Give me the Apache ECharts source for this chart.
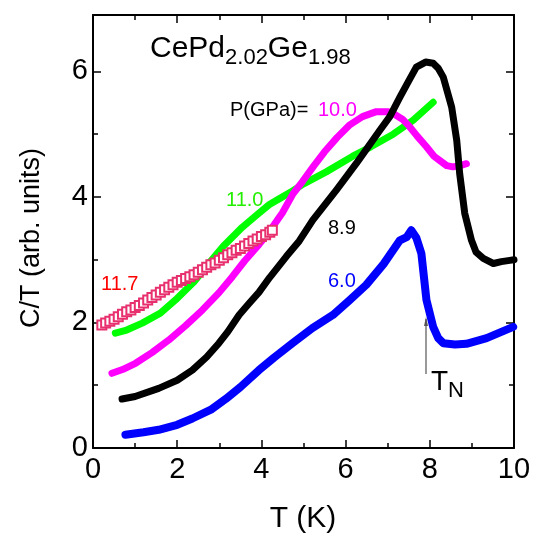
<!DOCTYPE html>
<html>
<head>
<meta charset="utf-8">
<script src="https://cdn.jsdelivr.net/npm/echarts@6/dist/echarts.min.js"></script>
<style>html,body{margin:0;padding:0;background:#fff}#c{width:539px;height:539px}</style>
</head>
<body>
<div id="c"></div>
<script>
// Data (T in K, C/T in arb. units)
var xTicks = [0, 2, 4, 6, 8, 10];
var yTicks = [0, 2, 4, 6];

var t60 = [0.77,1.2,1.56,2.0,2.36,2.8,3.15,3.5,3.94,4.3,4.74,5.21,5.7,6.1,6.49,6.9,7.29,7.45,7.56,7.68,7.8,7.92,8.08,8.2,8.32,8.6,8.87,9.35,9.98];
var c60 = [0.21,0.25,0.29,0.37,0.47,0.61,0.78,0.97,1.24,1.44,1.67,1.91,2.12,2.36,2.6,2.93,3.31,3.36,3.47,3.35,3.1,2.36,1.93,1.75,1.67,1.65,1.66,1.75,1.93];

var t89 = [0.69,1.0,1.56,2.0,2.36,2.7,2.99,3.2,3.47,3.7,3.94,4.2,4.59,4.9,5.22,5.5,5.78,6.25,6.81,7.05,7.29,7.5,7.68,7.9,8.08,8.2,8.32,8.52,8.64,8.71,8.83,8.99,9.1,9.27,9.51,9.7,9.9,10.0];
var c89 = [0.78,0.82,0.95,1.08,1.24,1.45,1.67,1.85,2.12,2.3,2.48,2.72,3.05,3.3,3.63,3.87,4.11,4.53,5.06,5.28,5.59,5.85,6.07,6.15,6.13,6.05,5.91,5.43,4.9,4.37,3.74,3.31,3.12,3.02,2.94,2.97,2.99,3.0];

var t100 = [0.45,0.7,1.01,1.4,1.8,2.2,2.6,3.0,3.31,3.6,3.94,4.19,4.5,4.75,4.98,5.25,5.5,5.8,6.1,6.4,6.73,7.0,7.13,7.35,7.52,7.7,7.92,8.1,8.24,8.4,8.55,8.72,8.87];
var c100 = [1.19,1.25,1.35,1.52,1.72,1.95,2.2,2.48,2.73,2.98,3.24,3.45,3.75,4.05,4.25,4.5,4.72,4.95,5.15,5.28,5.36,5.36,5.33,5.24,5.12,4.97,4.8,4.65,4.58,4.5,4.48,4.5,4.53];

var t110 = [0.53,0.8,1.17,1.6,1.96,2.4,2.75,3.1,3.55,3.9,4.19,4.42,4.75,4.98,5.54,6.17,6.6,7.13,7.6,8.08];
var c110 = [1.83,1.88,1.99,2.15,2.36,2.65,2.94,3.22,3.52,3.72,3.88,3.97,4.1,4.2,4.4,4.65,4.8,5.0,5.22,5.51];

var t117 = [0.21,0.3,0.4,0.5,0.6,0.7,0.8,0.9,1.0,1.1,1.2,1.3,1.4,1.5,1.6,1.7,1.8,1.9,2.0,2.1,2.2,2.3,2.4,2.5,2.6,2.7,2.8,2.9,3.0,3.1,3.2,3.3,3.4,3.5,3.6,3.7,3.8,3.9,4.0,4.1,4.2,4.26];
var c117 = [1.96,1.99,2.02,2.05,2.09,2.13,2.17,2.2,2.24,2.27,2.31,2.36,2.4,2.44,2.48,2.52,2.56,2.6,2.64,2.67,2.70,2.73,2.76,2.8,2.84,2.88,2.92,2.95,2.99,3.03,3.08,3.11,3.15,3.18,3.22,3.26,3.3,3.33,3.37,3.4,3.44,3.47];

function pairs(t, c) { return t.map(function (v, i) { return [v, c[i]]; }); }

var FONT = "'Liberation Sans', Arial, sans-serif";
var chart = echarts.init(document.getElementById('c'), null, {renderer: 'canvas'});

function xAx(pos, labels) {
  return {
    type: 'value', min: 0, max: 10, interval: 2, position: pos,
    axisLine: {show: true, onZero: false, lineStyle: {color: '#000', width: 2}},
    axisTick: {show: true, inside: true, length: 8, lineStyle: {color: '#000', width: 1.5}},
    minorTick: {show: true, splitNumber: 2, length: 5, lineStyle: {color: '#000', width: 1.5}},
    splitLine: {show: false}, minorSplitLine: {show: false},
    axisLabel: {show: labels, margin: 7, color: '#000', fontSize: 29, fontFamily: FONT,
      formatter: function (v) { return xTicks.indexOf(v) >= 0 ? String(v) : ''; }}
  };
}
function yAx(pos, interval, tickLen, labels, line) {
  return {
    type: 'value', min: 0, max: 6.9, interval: interval, position: pos,
    axisLine: {show: line, onZero: false, lineStyle: {color: '#000', width: 2}},
    axisTick: {show: true, inside: true, length: tickLen, lineStyle: {color: '#000', width: 1.5}},
    splitLine: {show: false},
    axisLabel: {show: labels, margin: 5, color: '#000', fontSize: 29, fontFamily: FONT, showMaxLabel: false,
      formatter: function (v) { return yTicks.indexOf(v) >= 0 ? String(v) : ''; }}
  };
}

var lineBase = {type: 'line', symbol: 'none', smooth: false, xAxisIndex: 0, yAxisIndex: 0, z: 3};

chart.setOption({
  animation: false,
  grid: {left: 93, right: 25, top: 15, bottom: 91, containLabel: false},
  xAxis: [xAx('bottom', true), xAx('top', false)],
  yAxis: [yAx('left', 2, 8, true, true), yAx('left', 1, 5, false, false),
          yAx('right', 2, 8, false, true), yAx('right', 1, 5, false, false)],
  series: [
    Object.assign({}, lineBase, {name: '11.0', data: pairs(t110, c110),
      lineStyle: {color: '#00ff00', width: 7, cap: 'round', join: 'round'}}),
    Object.assign({}, lineBase, {name: '10.0', data: pairs(t100, c100),
      lineStyle: {color: '#ff00ff', width: 7, cap: 'round', join: 'round'}}),
    Object.assign({}, lineBase, {name: '8.9', data: pairs(t89, c89),
      lineStyle: {color: '#000000', width: 7, cap: 'round', join: 'round'}}),
    Object.assign({}, lineBase, {name: '6.0', data: pairs(t60, c60),
      lineStyle: {color: '#0000ff', width: 8, cap: 'round', join: 'round'}}),
    Object.assign({}, lineBase, {name: '11.7', data: pairs(t117, c117), symbol: 'emptyRect', symbolSize: 9, showAllSymbol: true, z: 5,
      lineStyle: {color: '#f590b5', width: 4, cap: 'round', join: 'round'},
      itemStyle: {color: '#e8306e', borderColor: '#e8306e', borderWidth: 1.5}})
  ],
  graphic: [
    {type: 'text', x: 150, y: 34, style: {
      text: '{m|CePd}{s|2.02}{m|Ge}{s|1.98}', fill: '#000',
      rich: {
        m: {fontSize: 30, fontFamily: FONT, lineHeight: 30, verticalAlign: 'top', fill: '#000'},
        s: {fontSize: 22, fontFamily: FONT, lineHeight: 22, verticalAlign: 'top', padding: [13, 0, 0, 0], fill: '#000'}
      }}},
    {type: 'text', x: 230, y: 110, style: {text: 'P(GPa)=', font: '20px ' + FONT, fill: '#000', verticalAlign: 'middle'}},
    {type: 'text', x: 318, y: 110, style: {text: '10.0', font: '20px ' + FONT, fill: '#ff00ff', verticalAlign: 'middle'}},
    {type: 'text', x: 226, y: 200, style: {text: '11.0', font: '20px ' + FONT, fill: '#22ee00', verticalAlign: 'middle'}},
    {type: 'text', x: 101, y: 284, style: {text: '11.7', font: '20px ' + FONT, fill: '#ff0000', verticalAlign: 'middle'}},
    {type: 'text', x: 328, y: 228, style: {text: '8.9', font: '20px ' + FONT, fill: '#000', verticalAlign: 'middle'}},
    {type: 'text', x: 328, y: 281, style: {text: '6.0', font: '20px ' + FONT, fill: '#0000ff', verticalAlign: 'middle'}},
    {type: 'text', x: 431, y: 382, style: {text: 'T', font: '28px ' + FONT, fill: '#000', verticalAlign: 'middle'}},
    {type: 'text', x: 448, y: 391, style: {text: 'N', font: '22px ' + FONT, fill: '#000', verticalAlign: 'middle'}},
    {type: 'line', shape: {x1: 426, y1: 374, x2: 426, y2: 319}, style: {stroke: '#555', lineWidth: 1.2}},
    {type: 'polygon', shape: {points: [[424, 326], [426, 317], [428, 326]]}, style: {fill: '#555'}},
    {type: 'text', x: 32, y: 238, rotation: Math.PI / 2, style: {text: 'C/T (arb. units)', font: '27px ' + FONT, fill: '#000', align: 'center', verticalAlign: 'middle'}},
    {type: 'text', x: 303, y: 519, style: {text: 'T (K)', font: '30px ' + FONT, fill: '#000', align: 'center', verticalAlign: 'middle'}}
  ]
});
</script>
</body>
</html>
